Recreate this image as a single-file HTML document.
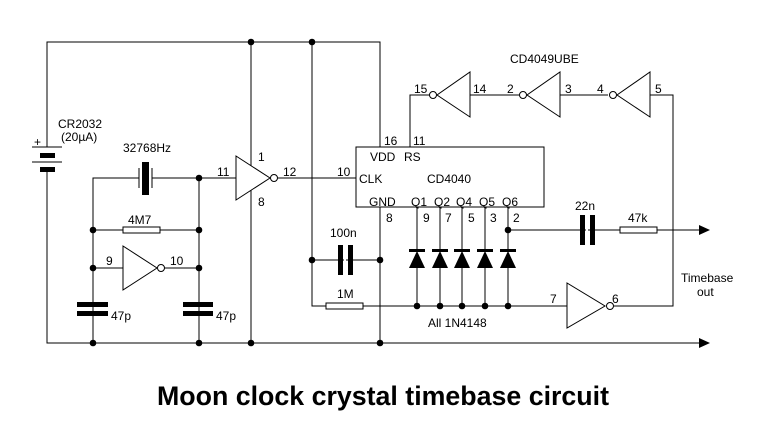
<!DOCTYPE html>
<html><head><meta charset="utf-8"><style>
html,body{margin:0;padding:0;background:#fff;}
svg{display:block;}
text{font-family:"Liberation Sans",Arial,sans-serif;font-size:12px;fill:#000;}
</style></head><body>
<svg width="769" height="441" viewBox="0 0 769 441" xmlns="http://www.w3.org/2000/svg">
<g stroke="#000" stroke-width="1" fill="none">
<!-- rails -->
<polyline points="47,147 47,42 380,42 380,147"/>
<polyline points="47,169 47,343 700,343"/>
<line x1="32" y1="147" x2="62" y2="147"/>
<line x1="32" y1="162" x2="62" y2="162"/>
<!-- crystal osc -->
<polyline points="139,178 93,178 93,343"/>
<line x1="152" y1="178" x2="357" y2="178"/>
<line x1="139" y1="168" x2="139" y2="188"/>
<line x1="152" y1="168" x2="152" y2="188"/>
<line x1="199" y1="178" x2="199" y2="343"/>
<line x1="93" y1="230" x2="199" y2="230"/>
<line x1="93" y1="268" x2="199" y2="268"/>
<line x1="251" y1="42" x2="251" y2="343"/>
<!-- 312 line -->
<polyline points="312,42 312,306 567,306"/>
<line x1="312" y1="260" x2="380" y2="260"/>
<line x1="380" y1="207" x2="380" y2="343"/>
<!-- chip -->
<polyline points="410,147 410,95 430,95"/>
<line x1="470" y1="95" x2="519" y2="95"/>
<line x1="560" y1="95" x2="608" y2="95"/>
<polyline points="650,95 673,95 673,306 614,306"/>
<line x1="417" y1="207" x2="417" y2="306"/>
<line x1="440" y1="207" x2="440" y2="306"/>
<line x1="462" y1="207" x2="462" y2="306"/>
<line x1="485" y1="207" x2="485" y2="306"/>
<line x1="508" y1="207" x2="508" y2="306"/>
<line x1="508" y1="230" x2="700" y2="230"/>
</g>
<g fill="#fff" stroke="#000" stroke-width="1">
<rect x="356" y="147" width="188" height="60"/>
<rect x="123" y="227" width="37" height="6"/>
<rect x="326" y="303" width="37" height="6"/>
<rect x="620" y="227" width="37" height="6"/>
<rect x="586" y="215" width="2" height="30" stroke="none"/>
<rect x="344" y="245" width="2" height="30" stroke="none"/>
<!-- inverters -->
<polygon points="236,156 236,200 270,178"/>
<circle cx="274" cy="178" r="3.5"/>
<polygon points="123,246 123,290 157,268"/>
<circle cx="161" cy="268" r="3.5"/>
<polygon points="567,283 567,328 605,306"/>
<circle cx="610" cy="306" r="3.5"/>
<polygon points="470,72 470,117 437,95"/>
<circle cx="433" cy="95" r="3.5"/>
<polygon points="560,72 560,117 527,95"/>
<circle cx="523" cy="95" r="3.5"/>
<polygon points="650,72 650,117 617,95"/>
<circle cx="613" cy="95" r="3.5"/>
</g>
<g fill="#000" stroke="none">
<!-- battery thick plates -->
<rect x="40" y="153" width="15" height="5"/>
<rect x="40" y="167" width="15" height="5"/>
<!-- crystal body -->
<rect x="142" y="162" width="7" height="33"/>
<!-- 47p caps -->
<rect x="77" y="302" width="31" height="5"/>
<rect x="77" y="311" width="31" height="5"/>
<rect x="183" y="302" width="30" height="5"/>
<rect x="183" y="311" width="30" height="5"/>
<!-- 100n -->
<rect x="338" y="245" width="5" height="30"/>
<rect x="348" y="245" width="5" height="30"/>
<!-- 22n -->
<rect x="580" y="215" width="5" height="30"/>
<rect x="590" y="215" width="5" height="30"/>
<!-- diodes -->
<rect x="409" y="249" width="16" height="3"/><polygon points="409,268 425,268 417,251"/>
<rect x="432" y="249" width="16" height="3"/><polygon points="432,268 448,268 440,251"/>
<rect x="454" y="249" width="16" height="3"/><polygon points="454,268 470,268 462,251"/>
<rect x="477" y="249" width="16" height="3"/><polygon points="477,268 493,268 485,251"/>
<rect x="500" y="249" width="16" height="3"/><polygon points="500,268 516,268 508,251"/>
<!-- arrows -->
<polygon points="699,225 710,230 699,235"/>
<polygon points="699,338 710,343 699,348"/>
<!-- dots -->
<circle cx="251" cy="42" r="3.3"/><circle cx="312" cy="42" r="3.3"/>
<circle cx="199" cy="178" r="3.3"/>
<circle cx="93" cy="230" r="3.3"/><circle cx="199" cy="230" r="3.3"/>
<circle cx="93" cy="268" r="3.3"/><circle cx="199" cy="268" r="3.3"/>
<circle cx="93" cy="343" r="3.3"/><circle cx="199" cy="343" r="3.3"/>
<circle cx="251" cy="343" r="3.3"/><circle cx="380" cy="343" r="3.3"/>
<circle cx="312" cy="260" r="3.3"/><circle cx="380" cy="260" r="3.3"/>
<circle cx="508" cy="230" r="3.3"/>
<circle cx="417" cy="306" r="3.3"/><circle cx="440" cy="306" r="3.3"/>
<circle cx="462" cy="306" r="3.3"/><circle cx="485" cy="306" r="3.3"/>
<circle cx="508" cy="306" r="3.3"/>
</g>
<g>
<text x="34" y="146">+</text>
<text x="58" y="188" dy="-60">CR2032</text>
<text x="61" y="141">(20µA)</text>
<text x="123" y="152">32768Hz</text>
<text x="217" y="176">11</text>
<text x="258" y="161">1</text>
<text x="283" y="176">12</text>
<text x="258" y="206">8</text>
<text x="128" y="224">4M7</text>
<text x="106" y="265">9</text>
<text x="170" y="265">10</text>
<text x="111" y="320">47p</text>
<text x="216" y="320">47p</text>
<text x="337" y="176">10</text>
<text x="384" y="145">16</text>
<text x="413" y="145">11</text>
<text x="370" y="161">VDD</text>
<text x="404" y="161">RS</text>
<text x="359" y="183">CLK</text>
<text x="427" y="183">CD4040</text>
<text x="369" y="206">GND</text>
<text x="411" y="206">Q1</text>
<text x="434" y="206">Q2</text>
<text x="456" y="206">Q4</text>
<text x="479" y="206">Q5</text>
<text x="502" y="206">Q6</text>
<text x="386" y="222">8</text>
<text x="423" y="222">9</text>
<text x="445" y="222">7</text>
<text x="468" y="222">5</text>
<text x="490" y="222">3</text>
<text x="513" y="222">2</text>
<text x="330" y="237">100n</text>
<text x="337" y="298">1M</text>
<text x="428" y="327">All 1N4148</text>
<text x="575" y="210">22n</text>
<text x="628" y="222">47k</text>
<text x="550" y="303">7</text>
<text x="612" y="303">6</text>
<text x="681" y="282">Timebase</text>
<text x="697" y="296">out</text>
<text x="510" y="63">CD4049UBE</text>
<text x="414" y="93">15</text>
<text x="473" y="93">14</text>
<text x="507" y="93">2</text>
<text x="565" y="93">3</text>
<text x="597" y="93">4</text>
<text x="655" y="93">5</text>
<text x="157" y="405" style="font-size:27px;font-weight:bold" textLength="452" lengthAdjust="spacingAndGlyphs">Moon clock crystal timebase circuit</text>
</g>
</svg>
</body></html>
